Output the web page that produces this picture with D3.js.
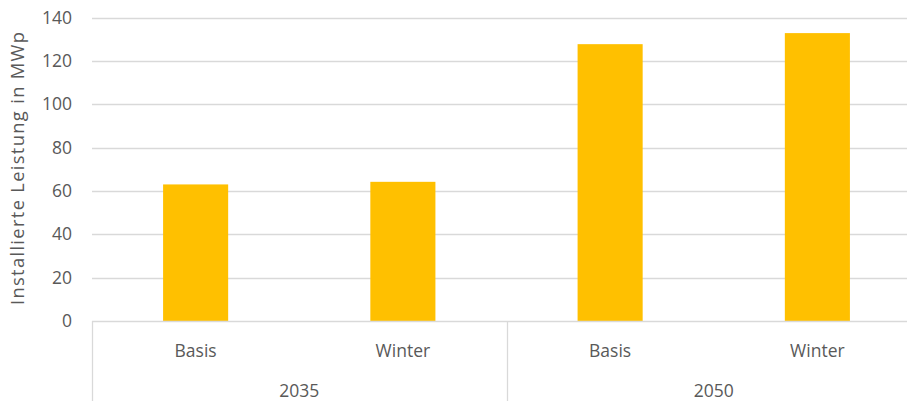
<!DOCTYPE html>
<html>
<head>
<meta charset="utf-8">
<script src="https://cdn.jsdelivr.net/npm/d3@7"></script>
<style>
  html, body { margin: 0; padding: 0; background: #fff; }
  svg { display: block; }
  text { font-family: "Open Sans", "Lato", sans-serif; fill: #595959; }
</style>
</head>
<body>
<svg id="chart" width="907" height="401"></svg>
<script>
// Installed PV capacity per year and scenario
const years = ["2035", "2050"];
const scenarios = ["Basis", "Winter"];
const values2035 = [63.0, 64.2];
const values2050 = [127.7, 132.8];
const yTicks = [0, 20, 40, 60, 80, 100, 120, 140];
const yTitle = "Installierte Leistung in MWp";

const rows = [];
[values2035, values2050].forEach((vals, gi) => {
  scenarios.forEach((s, si) => {
    rows.push({ year: years[gi], scenario: s, key: years[gi] + "|" + s, value: vals[si] });
  });
});

const svg = d3.select("#chart");
const plotLeft = 92, plotRight = 921, plotTop = 17.5, plotBottom = 321;

const x = d3.scaleBand().domain(rows.map(d => d.key)).range([plotLeft, plotRight]).padding(0);
const xYear = d3.scaleBand().domain(years).range([plotLeft, plotRight]).padding(0);
const y = d3.scaleLinear().domain([0, 140]).range([plotBottom, plotTop]);

const gridColor = "#d9d9d9";

// horizontal gridlines
svg.append("g").selectAll("line").data(yTicks.filter(t => t > 0)).join("line")
  .attr("x1", plotLeft).attr("x2", plotRight)
  .attr("y1", d => Math.round(y(d)) + 0.5).attr("y2", d => Math.round(y(d)) + 0.5)
  .attr("stroke", gridColor).attr("stroke-width", 1.3);

// y tick labels
svg.append("g").selectAll("text").data(yTicks).join("text")
  .attr("x", 72).attr("y", d => y(d))
  .attr("dy", "0.35em")
  .attr("text-anchor", "end")
  .style("font-size", "17.5px")
  .text(d => d);

// y axis title
svg.append("text")
  .attr("transform", `translate(${23.5},${168.5}) rotate(-90)`)
  .attr("text-anchor", "middle")
  .attr("textLength", 273)
  .attr("lengthAdjust", "spacing")
  .style("font-size", "18.3px")
  .text(yTitle);

// bars
const barRatio = 0.314;
svg.append("g").selectAll("rect").data(rows).join("rect")
  .attr("x", d => x(d.key) + x.bandwidth() * (1 - barRatio) / 2)
  .attr("width", x.bandwidth() * barRatio)
  .attr("y", d => y(d.value))
  .attr("height", d => y(0) - y(d.value))
  .attr("fill", "#FFC000");

// category axis: baseline and group separators
svg.append("line")
  .attr("x1", plotLeft).attr("x2", plotRight)
  .attr("y1", plotBottom + 0.5).attr("y2", plotBottom + 0.5)
  .attr("stroke", gridColor).attr("stroke-width", 1.3);

const seps = years.map(yr => xYear(yr)).concat([plotRight]);
svg.append("g").selectAll("line").data(seps).join("line")
  .attr("x1", d => Math.round(d) + 0.5).attr("x2", d => Math.round(d) + 0.5)
  .attr("y1", plotBottom).attr("y2", 401)
  .attr("stroke", gridColor).attr("stroke-width", 1.3);

// scenario labels
svg.append("g").selectAll("text").data(rows).join("text")
  .attr("x", d => x(d.key) + x.bandwidth() / 2)
  .attr("y", 356.5)
  .attr("text-anchor", "middle")
  .style("font-size", "17.5px")
  .text(d => d.scenario);

// year labels
svg.append("g").selectAll("text").data(years).join("text")
  .attr("x", d => xYear(d) + xYear.bandwidth() / 2)
  .attr("y", 396.5)
  .attr("text-anchor", "middle")
  .style("font-size", "17.5px")
  .text(d => d);
</script>
</body>
</html>
